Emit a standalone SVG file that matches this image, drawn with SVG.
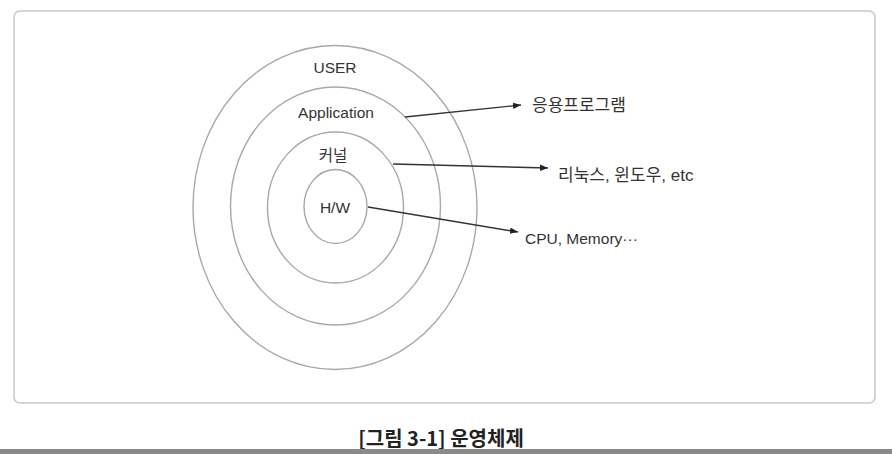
<svg xmlns="http://www.w3.org/2000/svg" width="892" height="454" viewBox="0 0 892 454">
<style>
.ring{fill:none;stroke:#a8a8a8;stroke-width:1.4}
.lbl{font-family:"Liberation Sans","Noto Sans CJK KR",sans-serif;font-size:15.5px;fill:#333;text-anchor:middle;dominant-baseline:central}
.side{font-family:"Liberation Sans","Noto Sans CJK KR",sans-serif;font-size:15.5px;fill:#333;dominant-baseline:central}
.ko{font-size:17px}
.conn{stroke:#333;stroke-width:1.4;fill:none}
.cap{font-family:"Noto Sans CJK KR","Liberation Sans",sans-serif;font-size:20px;font-weight:600;fill:#222;text-anchor:middle;dominant-baseline:central}
</style>
<defs>
<marker id="arr" viewBox="0 0 10 10" refX="10" refY="5" markerWidth="8" markerHeight="8" orient="auto" markerUnits="userSpaceOnUse">
<path d="M0,1 L10,5 L0,9 Z" fill="#222"/>
</marker>
</defs>
<rect width="892" height="454" fill="#fff"/>
<rect x="14" y="11" width="861" height="392" rx="6" fill="#fff" stroke="#c8c8c8" stroke-width="1.5"/>
<g id="user"><ellipse class="ring" cx="335" cy="207.5" rx="142" ry="162"/><text class="lbl" x="335" y="67">USER</text></g>
<g id="application"><ellipse class="ring" cx="335.5" cy="206" rx="105" ry="119"/><text class="lbl" x="336" y="112">Application</text></g>
<g id="kernel"><ellipse class="ring" cx="335.5" cy="207.5" rx="68" ry="75.5"/><text class="lbl" x="333" y="155">커널</text></g>
<g id="hw"><ellipse class="ring" cx="335.5" cy="206.5" rx="31.5" ry="37"/><text class="lbl" x="335" y="207">H/W</text></g>
<g id="connectors">
<line class="conn" x1="405" y1="117" x2="521" y2="105" marker-end="url(#arr)"/>
<line class="conn" x1="393" y1="164" x2="548" y2="168" marker-end="url(#arr)"/>
<line class="conn" x1="368" y1="207" x2="518" y2="232" marker-end="url(#arr)"/>
</g>
<g id="app-desc"><text class="side ko" x="532" y="105">응용프로그램</text></g>
<g id="os-desc"><text class="side ko" x="558" y="175">리눅스, 윈도우, etc</text></g>
<g id="hw-desc"><text class="side" x="525" y="238">CPU, Memory···</text></g>
<text class="cap" x="441" y="437">[그림 3-1] 운영체제</text>
<rect x="0" y="449" width="892" height="5" fill="#8a8a8a"/>
</svg>
